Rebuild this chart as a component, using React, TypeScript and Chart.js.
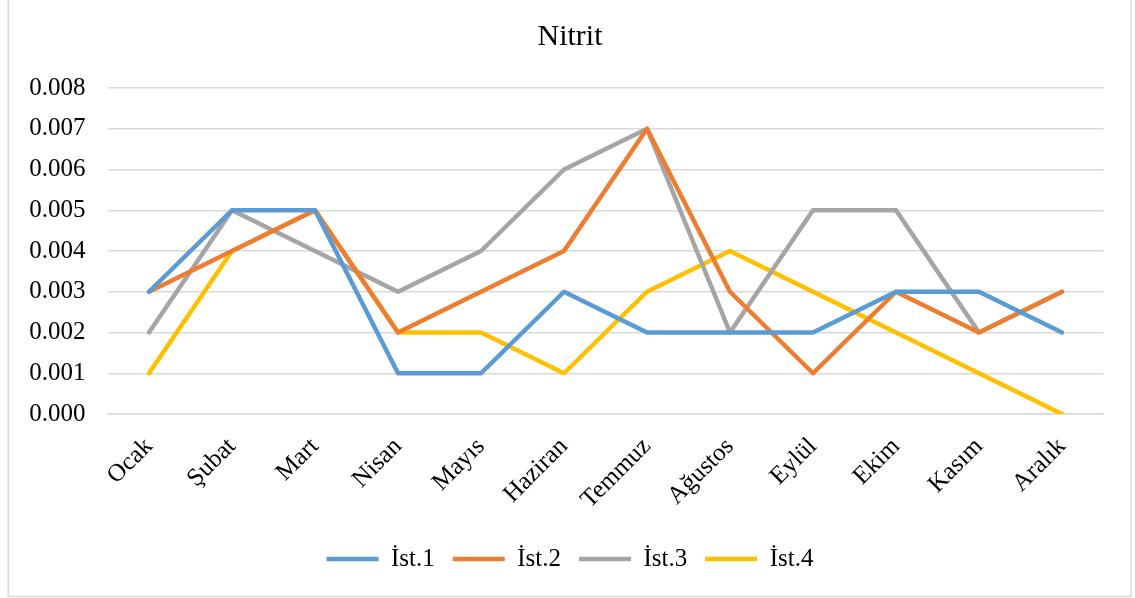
import React, { useEffect, useRef } from "react";
import { Chart, registerables } from "chart.js";

Chart.register(...registerables);

const months = ["Ocak", "Şubat", "Mart", "Nisan", "Mayıs", "Haziran", "Temmuz", "Ağustos", "Eylül", "Ekim", "Kasım", "Aralık"];
const ist1 = [0.003, 0.005, 0.005, 0.001, 0.001, 0.003, 0.002, 0.002, 0.002, 0.003, 0.003, 0.002];
const ist2 = [0.003, 0.004, 0.005, 0.002, 0.003, 0.004, 0.007, 0.003, 0.001, 0.003, 0.002, 0.003];
const ist3 = [0.002, 0.005, 0.004, 0.003, 0.004, 0.006, 0.007, 0.002, 0.005, 0.005, 0.002, 0.003];
const ist4 = [0.001, 0.004, 0.005, 0.002, 0.002, 0.001, 0.003, 0.004, 0.003, 0.002, 0.001, 0.000];
const seriesNames = ["İst.1", "İst.2", "İst.3", "İst.4"];
const seriesColors = ["#5B9BD5", "#ED7D31", "#A5A5A5", "#FFC000"];
const yMin = 0;
const yMax = 0.008;
const yStep = 0.001;

const FONT = "'Liberation Serif', 'Times New Roman', serif";

const borderPlugin = {
  id: "outerBorder",
  afterLayout(chart: any) {
    // centre title and legend on the framed figure rather than the padded box
    if (chart.legend) chart.legend.left = 36.5;
    if (chart.titleBlock) chart.titleBlock.left = 36.5;
  },
  afterDraw(chart: any) {
    const ctx = chart.ctx;
    ctx.save();
    ctx.strokeStyle = "#d9d9d9";
    ctx.lineWidth = 1.5;
    ctx.beginPath();
    ctx.moveTo(8.25, 0);
    ctx.lineTo(8.25, 596.5);
    ctx.lineTo(1131, 596.5);
    ctx.lineTo(1131, 0);
    ctx.stroke();
    ctx.restore();
  },
};

export default function App() {
  const ref = useRef<HTMLCanvasElement>(null);
  useEffect(() => {
    if (!ref.current) return;
    const all = [ist1, ist2, ist3, ist4];
    const chart = new Chart(ref.current, {
      type: "line",
      data: {
        labels: months,
        datasets: all.map((d, i) => ({
          label: seriesNames[i],
          data: d,
          borderColor: seriesColors[i],
          backgroundColor: seriesColors[i],
          borderWidth: 4.5,
          borderCapStyle: "round" as const,
          borderJoinStyle: "round" as const,
          pointRadius: 0,
          pointHoverRadius: 0,
          pointStyle: "line" as const,
          tension: 0,
          fill: false,
        })),
      },
      options: {
        responsive: false,
        animation: false,
        layout: { padding: { left: 0, right: 31.5, top: 0, bottom: 16.5 } },
        plugins: {
          title: {
            display: true,
            text: "Nitrit",
            color: "#000",
            font: { family: FONT, size: 30, weight: "normal" },
            padding: { top: 19, bottom: 33 },
          },
          legend: {
            position: "bottom",
            labels: {
              color: "#000",
              font: { family: FONT, size: 25 },
              usePointStyle: true,
              pointStyle: "line",
              pointStyleWidth: 52,
              padding: 18,
            },
          },
          tooltip: { enabled: false },
        },
        scales: {
          x: {
            offset: true,
            grid: { display: false, drawTicks: false },
            border: { display: true, color: "#d9d9d9", width: 1.5 },
            ticks: {
              color: "#000",
              font: { family: FONT, size: 25 },
              maxRotation: 45,
              minRotation: 45,
              padding: 18,
              autoSkip: false,
            },
            afterFit(scale: any) {
              scale.height = 114.5;
            },
          },
          y: {
            min: yMin,
            max: yMax,
            grid: { color: "#d9d9d9", lineWidth: 1.5, drawTicks: false },
            border: { display: false },
            ticks: {
              stepSize: yStep,
              color: "#000",
              font: { family: FONT, size: 25 },
              padding: 22,
              callback: (v: any) => Number(v).toFixed(3),
            },
            afterFit(scale: any) {
              scale.width = 107.5;
            },
          },
        },
      },
      plugins: [borderPlugin],
    });
    return () => chart.destroy();
  }, []);
  return (
    <div style={{ position: "fixed", left: 0, top: 0, width: 1135, height: 598, background: "#fff" }}>
      <canvas ref={ref} width={1135} height={598} style={{ display: "block" }} />
    </div>
  );
}
